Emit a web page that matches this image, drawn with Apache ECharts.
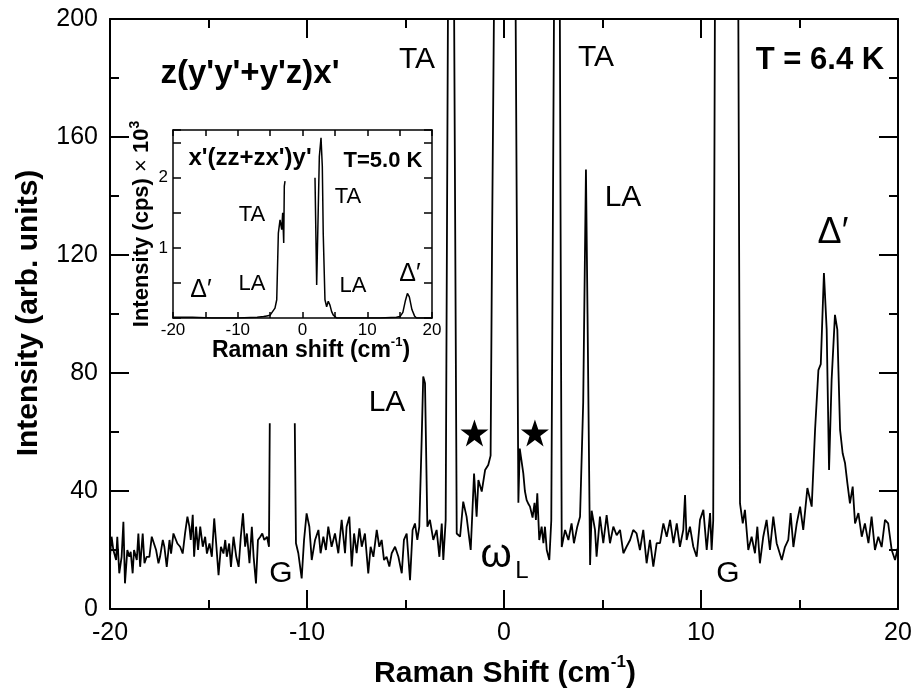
<!DOCTYPE html>
<html><head><meta charset="utf-8">
<script src="https://cdn.jsdelivr.net/npm/echarts@6/dist/echarts.min.js"></script>
<style>html,body{margin:0;padding:0;background:#fff}#c{width:916px;height:694px}</style>
</head><body><div id="c"></div>
<script>
// Main spectrum: Raman shift (cm^-1) and intensity (arb. units); null = masked region
const shift = [
-20.00,-19.92,-19.83,-19.69,-19.63,-19.53,-19.41,-19.32,-19.24,-19.12,-19.02,-18.95,-18.85,-18.78,-18.64,-18.56,-18.47,-18.34,-18.25,-18.14,
-18.00,-17.88,-17.80,-17.66,-17.54,-17.46,-17.32,-17.24,-17.12,-16.98,-16.90,-16.78,-16.69,-16.58,-16.44,-16.31,-16.19,-16.07,-15.97,-15.90,
-15.80,-15.73,-15.63,-15.53,-15.42,-15.29,-15.17,-15.08,-14.95,-14.83,-14.71,-14.61,-14.49,-14.37,-14.24,-14.15,-14.07,-13.95,-13.86,-13.73,
-13.59,-13.47,-13.36,-13.25,-13.14,-13.05,-12.92,-12.80,-12.71,-12.59,-12.49,-12.37,-12.27,-12.17,-12.03,-11.93,-11.89,-11.30,-10.62,-10.56,
-10.44,-10.27,-10.15,-10.02,-9.88,-9.76,-9.59,-9.42,-9.31,-9.17,-9.04,-8.92,-8.75,-8.58,-8.41,-8.24,-8.07,-7.99,-7.85,-7.73,
-7.61,-7.48,-7.34,-7.22,-7.06,-6.89,-6.77,-6.63,-6.46,-6.33,-6.21,-6.09,-5.96,-5.82,-5.70,-5.53,-5.36,-5.19,-5.08,-4.94,
-4.77,-4.64,-4.52,-4.40,-4.30,-4.18,-4.10,-4.01,-3.89,-3.76,-3.59,-3.42,-3.28,-3.16,-3.08,-2.96,-2.82,-2.70,-2.56,-2.40,
-2.23,-2.07,-1.90,-1.69,-1.52,-1.39,-1.30,-1.13,-0.96,-0.80,-0.68,-0.60,-0.50,0.05,0.58,0.73,0.80,0.86,0.98,1.06,
1.15,1.25,1.32,1.45,1.55,1.62,1.69,1.79,1.91,2.00,2.08,2.17,2.30,2.40,2.56,2.70,2.82,2.93,3.10,3.27,
3.43,3.55,3.72,3.86,4.02,4.16,4.24,4.37,4.45,4.62,4.70,4.87,5.04,5.21,5.38,5.55,5.72,5.89,6.06,6.22,
6.40,6.56,6.73,6.90,7.07,7.24,7.41,7.58,7.75,7.92,8.09,8.26,8.43,8.60,8.77,8.93,9.10,9.19,9.27,9.44,
9.61,9.78,9.95,10.12,10.29,10.46,10.54,10.62,10.72,11.30,11.88,11.98,12.12,12.23,12.40,12.57,12.74,12.86,12.99,13.16,
13.33,13.50,13.67,13.84,14.10,14.26,14.43,14.55,14.69,14.86,15.03,15.19,15.40,15.62,15.79,15.96,16.08,16.24,16.38,16.50,
16.63,16.80,16.92,17.06,17.19,17.31,17.43,17.56,17.70,17.82,17.99,18.16,18.32,18.50,18.66,18.83,19.00,19.17,19.34,19.50,
19.68,19.85,20.00
];
const intensity = [
17.7,24.5,20.0,16.6,24.5,12.1,17.7,29.6,8.7,20.0,17.7,19.4,12.1,20.0,16.6,25.6,14.3,25.6,15.5,17.7,
17.7,24.5,25.1,20.0,15.5,17.7,23.4,21.1,14.3,23.4,18.8,25.6,25.1,22.2,21.1,18.8,25.6,31.3,27.9,23.4,
31.9,17.7,27.9,20.0,27.9,21.1,24.5,18.8,22.2,17.7,30.7,22.2,11.5,21.1,18.8,23.4,17.7,22.2,14.3,24.5,
17.7,14.3,24.5,32.4,21.1,25.6,15.5,27.9,17.7,8.7,23.4,24.5,25.6,23.4,24.5,21.1,63,null,63,22.3,
18.9,10.4,23.4,32.4,27.9,16.6,23.4,26.8,18.9,24.5,20.0,27.9,21.1,25.6,18.9,30.2,18.9,27.9,31.3,14.4,
25.6,18.9,27.3,21.1,25.6,12.1,21.1,17.7,26.8,21.1,23.4,16.6,17.7,14.4,18.9,21.1,17.7,12.1,23.4,25.6,
9.8,26.8,29.0,23.4,27.9,57.3,78.8,76.5,27.9,30.2,23.4,26.8,17.7,29.0,16.6,30.2,240,2000,240,25.6,
24.5,36.4,31.3,20.0,45.9,31.3,43.7,39.8,47.1,48.8,52.0,130,210,3000,215,36.0,54.4,51.6,46.0,40.0,
36.9,35.5,34.7,31.0,36.0,30.2,39.2,23.4,27.9,22.3,27.9,20.0,16.6,30.0,230,2000,230,21.0,26.8,23.4,
29.0,22.3,27.9,31.3,70,149,100,14.9,33.3,26.8,17.7,31.3,22.3,31.8,22.3,27.9,25.0,26.8,18.9,21.1,
23.4,26.8,25.6,20.0,26.8,15.5,23.4,14.4,22.3,22.3,29.0,24.5,30.2,22.3,29.0,21.1,26.8,38.6,23.4,27.9,
21.1,17.7,30.2,33.6,20.0,32.5,20.0,30.0,230,null,230,35.8,29.0,33.6,20.0,24.5,18.9,27.9,15.5,24.5,
30.2,20.0,31.3,22.3,16.6,21.0,23.4,32.5,21.0,29.0,34.7,26.8,41.0,34.7,60.7,81.0,83.0,113.9,94.7,47.1,
77.6,99.7,94.7,60.7,52.8,49.5,42.7,35.8,41.5,29.0,32.5,24.5,29.0,22.3,31.3,20.0,24.5,21.0,30.2,29.0,
20.0,16.6,21.0
];
// Inset spectrum: Raman shift (cm^-1) and intensity (cps x 10^3)
const insetShift = [-20,-17,-14,-10,-7,-6,-5.5,-5.0,-4.25,-3.98,-3.73,-3.47,-3.21,-3.06,-2.90,-2.81,-2.70,0,
  1.93,2.19,2.60,2.86,3.06,3.20,3.47,3.73,3.98,4.25,4.50,4.76,5.27,8,12,14.5,15.06,15.5,15.9,16.2,16.5,16.9,17.3,17.6,20];
const insetIntensity = [0.01,0.01,0.0,0.0,0.01,0.02,0.03,0.04,0.14,0.26,1.21,1.40,1.26,1.50,1.07,1.88,1.95,null,
  2.00,0.47,2.30,2.57,2.16,1.21,0.26,0.16,0.24,0.18,0.09,0.04,0.0,0.0,0.0,0.01,0.02,0.08,0.25,0.35,0.30,0.12,0.03,0.0,0.0];
// Star markers
const starShift = [-1.50, 1.57];
const starIntensity = [59.7, 59.7];
// Tick label values
const mainXTicks = [-20, -10, 0, 10, 20];
const mainYTicks = [0, 40, 80, 120, 160, 200];
const insetXLabels = [-20, -10, 0, 10, 20];
const insetYLabels = [1, 2];

const FONT = '"Liberation Sans", Arial, Helvetica, sans-serif';
const pairs = (xs, ys) => xs.map((x, i) => [x, ys[i] === null ? '-' : ys[i]]);
const K = '#000';

function axis(o) {
  return Object.assign({
    type: 'value',
    axisLine: { show: true, onZero: false, lineStyle: { color: K, width: o.lw || 2 } },
    axisTick: { show: true, inside: true, length: o.tl, lineStyle: { color: K, width: o.lw || 2 } },
    minorTick: { show: o.mtl > 0, splitNumber: 2, length: o.mtl || 0, lineStyle: { color: K, width: o.lw || 2 } },
    splitLine: { show: false },
    axisLabel: o.label ? Object.assign({ color: K, fontFamily: FONT }, o.label) : { show: false }
  }, o.base);
}

const chart = echarts.init(document.getElementById('c'), null, { renderer: 'canvas' });
const option = {
  backgroundColor: '#fff',
  animation: false,
  grid: [
    { left: 110, top: 19, width: 788, height: 590 },
    { left: 173, top: 130, width: 259, height: 188 }
  ],
  xAxis: [
    axis({ base: { gridIndex: 0, position: 'bottom', min: -20, max: 20, interval: 10 }, tl: 19, mtl: 9,
      label: { fontSize: 25, margin: 12, formatter: v => mainXTicks.includes(v) ? String(v) : '' } }),
    axis({ base: { gridIndex: 0, position: 'top', min: -20, max: 20, interval: 10 }, tl: 19, mtl: 9 }),
    axis({ base: { gridIndex: 1, position: 'bottom', min: -20, max: 20, interval: 5 }, tl: 6, mtl: 0, lw: 1.5,
      label: { fontSize: 17, margin: 4, formatter: v => insetXLabels.includes(v) ? String(v) : '' } }),
    axis({ base: { gridIndex: 1, position: 'top', min: -20, max: 20, interval: 5 }, tl: 6, mtl: 0, lw: 1.5 })
  ],
  yAxis: [
    axis({ base: { gridIndex: 0, position: 'left', min: 0, max: 200, interval: 40 }, tl: 19, mtl: 9,
      label: { fontSize: 25, margin: 12, formatter: v => mainYTicks.includes(v) ? String(v) : '' } }),
    axis({ base: { gridIndex: 0, position: 'right', min: 0, max: 200, interval: 40 }, tl: 19, mtl: 9 }),
    axis({ base: { gridIndex: 1, position: 'left', min: 0, max: 2.68, interval: 0.5 }, tl: 8, mtl: 0, lw: 1.5,
      label: { fontSize: 17, margin: 5, formatter: v => insetYLabels.includes(v) ? String(v) : '' } }),
    axis({ base: { gridIndex: 1, position: 'right', min: 0, max: 2.68, interval: 0.5 }, tl: 8, mtl: 0, lw: 1.5 })
  ],
  series: [
    { type: 'line', xAxisIndex: 0, yAxisIndex: 0, data: pairs(shift, intensity), showSymbol: false,
      symbol: 'none', connectNulls: false, clip: true, lineStyle: { color: K, width: 1.8 } },
    { type: 'scatter', xAxisIndex: 0, yAxisIndex: 0, data: pairs(starShift, starIntensity),
      symbol: 'path://M12,0 L14.9,8.6 L24,8.6 L16.6,14 L19.4,22.8 L12,17.4 L4.6,22.8 L7.4,14 L0,8.6 L9.1,8.6 Z',
      symbolSize: [28, 27], itemStyle: { color: K, opacity: 1 } },
    { type: 'line', xAxisIndex: 2, yAxisIndex: 2, data: pairs(insetShift, insetIntensity), showSymbol: false,
      symbol: 'none', connectNulls: false, clip: true, lineStyle: { color: K, width: 1.5 } }
  ],
  graphic: []
};

function txt(s, x, y, size, bold, extra) {
  return Object.assign({ type: 'text', x: x, y: y, z: 100,
    style: { text: s, fill: K, fontSize: size, fontWeight: bold ? 'bold' : 'normal', fontFamily: FONT,
      align: 'center', verticalAlign: 'middle', textAlign: 'center', textVerticalAlign: 'middle' } }, extra || {});
}
const g = option.graphic;
g.push(txt("z(y'y'+y'z)x'", 250, 74, 33, true));
g.push(txt('T = 6.4 K', 820, 60, 31, true));
g.push(txt('TA', 417, 60, 30, false));
g.push(txt('TA', 596, 58, 30, false));
g.push(txt('LA', 623, 198, 30, false));
g.push(txt('LA', 387, 403, 30, false));
g.push(txt('Δ′', 833, 233, 36, false));
g.push(txt('G', 281, 574, 30, false));
g.push(txt('G', 728, 574, 30, false));
g.push(txt('ω', 496, 556, 40, false));
g.push(txt('L', 522, 571, 24, false));
// inset labels
g.push(txt("x'(zz+zx')y'", 250, 158, 24, true));
g.push(txt('T=5.0 K', 383, 161, 22, true));
g.push(txt('TA', 252, 215, 22, false));
g.push(txt('TA', 348, 197, 22, false));
g.push(txt('LA', 252, 284, 22, false));
g.push(txt('LA', 353, 286, 22, false));
g.push(txt('Δ′', 201, 290, 25, false));
g.push(txt('Δ′', 410, 274, 25, false));
// axis titles
g.push({ type: 'text', x: 505, y: 674, z: 100, style: {
  text: '{a|Raman Shift (cm}{s|-1}{a|)}', fill: K, align: 'center', verticalAlign: 'middle',
  textAlign: 'center', textVerticalAlign: 'middle',
  rich: { a: { fontSize: 30, fontWeight: 'bold', fontFamily: FONT, lineHeight: 40 },
          s: { fontSize: 17, fontWeight: 'bold', fontFamily: FONT, lineHeight: 20, verticalAlign: 'top' } } } });
g.push({ type: 'text', x: 29, y: 313, z: 100, rotation: Math.PI / 2, style: {
  text: 'Intensity (arb. units)', fill: K, fontSize: 30, fontWeight: 'bold', fontFamily: FONT,
  align: 'center', verticalAlign: 'middle', textAlign: 'center', textVerticalAlign: 'middle' } });
g.push({ type: 'text', x: 311, y: 351, z: 100, style: {
  text: '{a|Raman shift (cm}{s|-1}{a|)}', fill: K, align: 'center', verticalAlign: 'middle',
  textAlign: 'center', textVerticalAlign: 'middle',
  rich: { a: { fontSize: 23, fontWeight: 'bold', fontFamily: FONT, lineHeight: 30 },
          s: { fontSize: 13, fontWeight: 'bold', fontFamily: FONT, lineHeight: 14, verticalAlign: 'top' } } } });
g.push({ type: 'text', x: 142, y: 224, z: 100, rotation: Math.PI / 2, style: {
  text: '{a|Intensity (cps)}{x| × }{a|10}{s|3}', fill: K, align: 'center', verticalAlign: 'middle',
  textAlign: 'center', textVerticalAlign: 'middle',
  rich: { a: { fontSize: 22, fontWeight: 'bold', fontFamily: FONT, lineHeight: 28 },
          x: { fontSize: 22, fontWeight: 'normal', fontFamily: FONT, lineHeight: 28 },
          s: { fontSize: 14, fontWeight: 'bold', fontFamily: FONT, lineHeight: 14, verticalAlign: 'top' } } } });

chart.setOption(option);
</script>
</body></html>
